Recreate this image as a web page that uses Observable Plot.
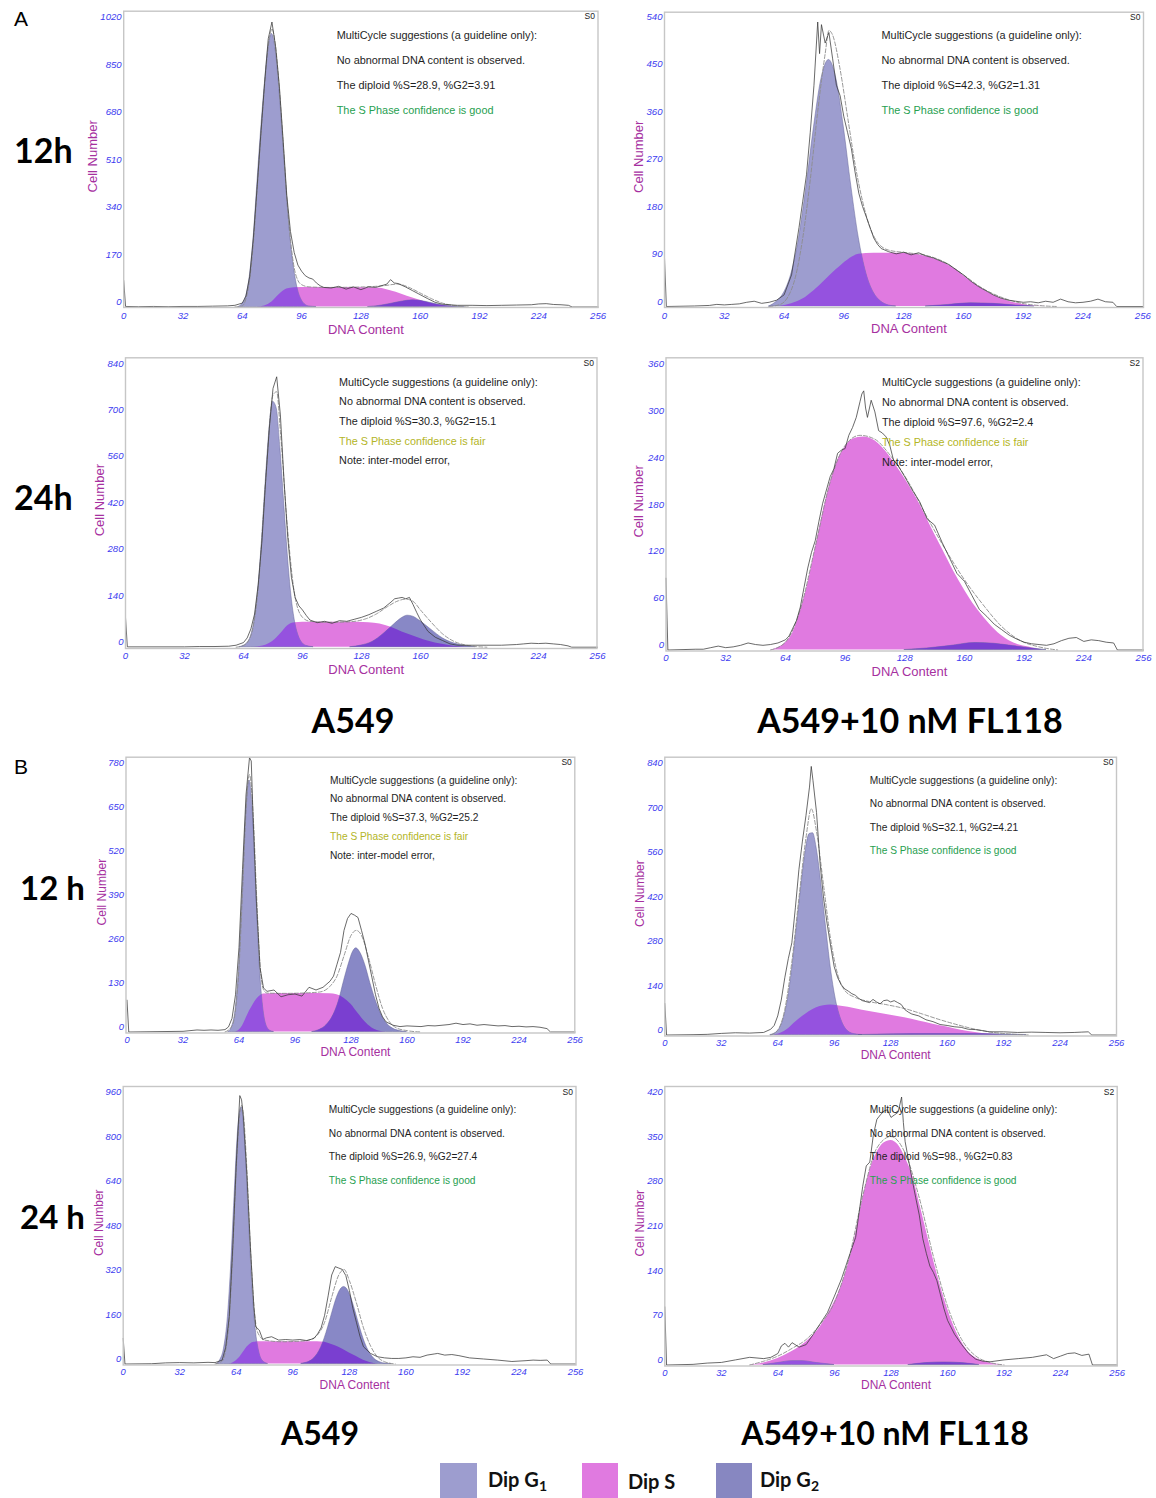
<!DOCTYPE html>
<html><head><meta charset="utf-8">
<script src="https://cdn.jsdelivr.net/npm/d3@7"></script>
<script src="https://cdn.jsdelivr.net/npm/@observablehq/plot@0.6"></script>
<style>
html,body{margin:0;padding:0;background:#fff;}
#page{position:relative;width:1156px;height:1498px;overflow:hidden;font-family:"Liberation Sans",Arial,sans-serif;}
.abs{position:absolute;white-space:nowrap;line-height:1;}
.big{font-family:Lato,"Open Sans",sans-serif;font-weight:700;color:#000;}
.lg{font-family:Lato,"Open Sans",sans-serif;font-weight:700;font-size:20px;color:#111;}
.lg sub{font-size:0.7em;vertical-align:-0.25em;}
svg{position:absolute;}
</style></head><body>
<div id="page">
  <div class="abs" style="left:14px;top:18px;font-size:21px;transform:translateY(-50%)">A</div>
  <div class="abs" style="left:14px;top:766px;font-size:21px;transform:translateY(-50%)">B</div>
  <div class="abs big" style="left:14px;top:150px;font-size:34px;transform:translateY(-50%)">12h</div>
  <div class="abs big" style="left:14px;top:497px;font-size:34px;transform:translateY(-50%)">24h</div>
  <div class="abs big" style="left:20px;top:887px;font-size:33px;transform:translateY(-50%)">12 h</div>
  <div class="abs big" style="left:20px;top:1216px;font-size:33px;transform:translateY(-50%)">24 h</div>
  <div class="abs big" style="left:353px;top:720px;font-size:34px;transform:translate(-50%,-50%)">A549</div>
  <div class="abs big" style="left:910px;top:720px;font-size:34px;transform:translate(-50%,-50%)">A549+10 nM FL118</div>
  <div class="abs big" style="left:320px;top:1433px;font-size:32px;transform:translate(-50%,-50%)">A549</div>
  <div class="abs big" style="left:885px;top:1433px;font-size:32px;transform:translate(-50%,-50%)">A549+10 nM FL118</div>
</div>
<script>
// ---------------- shared ----------------
const xTicks = [0, 32, 64, 96, 128, 160, 192, 224, 256];
const legendPhases = ["G1", "S", "G2"];

// ---------------- A · 12h · A549 ----------------
const yTicks_A12_ctl = [0, 170, 340, 510, 680, 850, 1020];
const g1_A12_ctl = [[62,0],[64,10],[66,36],[68,107],[70,238],[72,430],[74,620],[76,785],[78,925],[80,977],[82,920],[84,780],[86,600],[88,410],[90,250],[92,135],[94,62],[96,25],[98,8],[100,2],[104,0]];
const s_A12_ctl = [[72,0],[76,4],[80,18],[84,45],[88,64],[92,69],[100,70],[120,70],[130,69],[138,67],[144,58],[150,46],[156,32],[162,20],[168,10],[174,4],[180,0]];
const g2_A12_ctl = [[132,0],[138,4],[144,11],[150,19],[156,24],[160,22],[166,14],[172,6],[178,2],[184,0]];
const raw_A12_ctl = [[0,95],[1,2],[8,1],[16,2],[24,1],[32,2],[40,2],[48,3],[56,4],[60,6],[64,14],[66,40],[68,110],[70,250],[72,430],[74,620],[76,800],[78,960],[80,1020],[82,930],[84,790],[86,600],[88,400],[90,270],[92,195],[94,150],[96,128],[98,112],[100,104],[102,100],[104,86],[106,76],[108,70],[112,68],[116,74],[120,64],[124,72],[128,62],[132,72],[136,70],[140,78],[142,82],[144,98],[146,86],[148,84],[152,72],[156,58],[160,44],[164,30],[168,17],[172,10],[176,8],[180,6],[188,6],[196,5],[204,6],[212,7],[220,8],[224,11],[228,12],[232,9],[236,8],[240,6],[242,0],[256,0]];
const fit_A12_ctl = [[60,0],[64,4],[66,30],[68,100],[70,230],[72,420],[74,610],[76,790],[78,930],[80,995],[82,930],[84,780],[86,590],[88,390],[90,240],[92,140],[94,95],[96,80],[100,72],[110,70],[130,72],[140,76],[148,82],[154,70],[160,50],[166,30],[172,14],[178,5],[186,0]];
const notes_A12_ctl = ["MultiCycle suggestions (a guideline only):", "No abnormal DNA content is observed.", "The diploid %S=28.9, %G2=3.91", "The S Phase confidence is good"];

// ---------------- A · 12h · A549+FL118 ----------------
const yTicks_A12_fl = [0, 90, 180, 270, 360, 450, 540];
const g1_A12_fl = [[56,0],[60,9],[64,26],[68,63],[72,130],[76,228],[80,340],[84,432],[88,468],[92,432],[96,340],[100,228],[104,130],[108,63],[112,26],[116,9],[120,2],[124,0]];
const s_A12_fl = [[62,0],[68,5],[74,14],[80,30],[86,50],[92,70],[98,88],[104,99],[112,101],[124,101],[134,99],[142,93],[150,82],[156,70],[162,53],[168,38],[174,25],[180,15],[186,8],[192,4],[198,1],[204,0]];
const g2_A12_fl = [[140,0],[152,3],[164,6],[176,5],[188,2],[198,0]];
const raw_A12_fl = [[0,92],[1,0],[16,1],[24,2],[28,4],[32,3],[36,4],[40,5],[44,8],[48,10],[52,6],[56,8],[60,12],[64,22],[68,60],[72,150],[74,200],[76,250],[78,330],[80,420],[82,540],[83,480],[84,535],[86,500],[88,520],[90,470],[92,420],[94,400],[96,360],[98,330],[100,300],[102,255],[104,215],[106,190],[108,170],[110,150],[112,130],[114,118],[116,110],[120,104],[124,100],[128,103],[132,98],[136,102],[140,96],[144,92],[148,86],[152,80],[156,70],[160,60],[164,48],[168,38],[172,30],[176,22],[180,16],[184,12],[188,10],[192,8],[196,9],[200,7],[204,10],[208,8],[212,14],[216,9],[220,7],[224,8],[228,10],[232,14],[236,9],[240,8],[242,0],[256,0]];
const fit_A12_fl = [[56,0],[62,4],[66,18],[70,55],[74,130],[78,240],[82,370],[86,480],[88,524],[90,515],[94,450],[98,360],[102,270],[106,200],[110,150],[114,122],[120,107],[130,102],[140,97],[150,84],[160,60],[170,35],[180,18],[190,7],[200,2],[210,0]];
const notes_A12_fl = ["MultiCycle suggestions (a guideline only):", "No abnormal DNA content is observed.", "The diploid %S=42.3, %G2=1.31", "The S Phase confidence is good"];

// ---------------- A · 24h · A549 ----------------
const yTicks_A24_ctl = [0, 140, 280, 420, 560, 700, 840];
const g1_A24_ctl = [[62,0],[64,4],[66,12],[68,32],[70,82],[72,175],[74,320],[76,495],[78,650],[80,740],[82,720],[84,600],[86,440],[88,280],[90,155],[92,75],[94,32],[96,12],[98,4],[102,0]];
const s_A24_ctl = [[70,0],[76,6],[80,18],[84,40],[88,65],[92,74],[100,75],[120,75],[132,74],[138,70],[144,60],[150,46],[156,34],[162,22],[168,13],[174,7],[180,2],[186,0]];
const g2_A24_ctl = [[122,0],[128,5],[134,16],[140,40],[146,70],[150,88],[153,95],[156,92],[160,78],[166,52],[172,27],[178,12],[184,4],[190,0]];
const raw_A24_ctl = [[0,90],[1,1],[16,1],[32,1],[40,2],[48,2],[56,3],[60,6],[64,14],[66,28],[68,55],[70,100],[72,190],[74,320],[76,500],[78,660],[80,780],[82,815],[84,700],[86,500],[88,330],[90,210],[92,150],[94,125],[96,112],[98,96],[100,82],[104,74],[108,78],[112,72],[116,80],[120,78],[124,84],[128,90],[132,98],[136,108],[140,118],[144,136],[146,146],[148,148],[150,150],[152,146],[154,150],[156,128],[158,104],[160,82],[164,48],[168,30],[172,20],[176,10],[180,6],[188,6],[196,6],[204,6],[212,8],[216,10],[220,12],[224,11],[228,12],[232,10],[236,8],[240,4],[242,0],[256,0]];
const fit_A24_ctl = [[60,0],[64,5],[68,35],[72,180],[76,500],[80,760],[82,770],[84,650],[88,350],[92,150],[96,90],[100,78],[110,75],[120,76],[130,85],[136,100],[142,122],[148,140],[152,145],[156,138],[160,112],[166,74],[172,40],[178,18],[184,7],[190,2],[196,0]];
const notes_A24_ctl = ["MultiCycle suggestions (a guideline only):", "No abnormal DNA content is observed.", "The diploid %S=30.3, %G2=15.1", "The S Phase confidence is fair", "Note: inter-model error,"];

// ---------------- A · 24h · A549+FL118 ----------------
const yTicks_A24_fl = [0, 60, 120, 180, 240, 300, 360];
const g1_A24_fl = [];
const s_A24_fl = [[56,0],[60,3],[64,9],[68,22],[72,50],[76,85],[80,130],[84,175],[88,214],[92,243],[96,260],[100,270],[106,273],[112,268],[118,254],[124,234],[130,212],[136,187],[142,158],[148,130],[154,102],[160,77],[166,55],[172,37],[178,22],[184,12],[190,6],[196,3],[202,0]];
const g2_A24_fl = [[128,0],[140,2],[152,5],[166,9],[176,8],[186,5],[196,2],[204,0]];
const raw_A24_fl = [[0,92],[1,0],[16,1],[20,1],[24,3],[28,5],[32,3],[36,4],[40,6],[44,9],[48,7],[52,6],[56,7],[60,9],[64,13],[66,18],[68,28],[70,38],[72,55],[74,80],[76,105],[78,125],[80,140],[82,165],[84,188],[86,205],[88,222],[90,232],[92,252],[94,256],[96,258],[98,275],[100,285],[102,298],[104,318],[105,328],[106,332],[107,310],[108,298],[110,320],[112,305],[114,281],[116,278],[118,273],[120,262],[122,243],[124,238],[128,222],[132,205],[136,190],[140,168],[144,160],[148,138],[152,118],[156,98],[160,88],[164,70],[168,52],[172,43],[176,33],[180,26],[184,19],[188,14],[192,10],[196,8],[200,7],[204,6],[208,8],[212,12],[216,15],[220,16],[224,11],[228,13],[232,12],[236,10],[240,9],[242,0],[256,0]];
const fit_A24_fl = [[56,0],[64,10],[72,52],[80,132],[88,215],[96,262],[104,275],[112,270],[120,250],[130,215],[140,170],[150,128],[160,90],[170,58],[180,30],[190,12],[200,4],[210,0]];
const notes_A24_fl = ["MultiCycle suggestions (a guideline only):", "No abnormal DNA content is observed.", "The diploid %S=97.6, %G2=2.4", "The S Phase confidence is fair", "Note: inter-model error,"];

// ---------------- B · 12 h · A549 ----------------
const yTicks_B12_ctl = [0, 130, 260, 390, 520, 650, 780];
const g1_B12_ctl = [[58,0],[60,15],[62,63],[64,185],[66,400],[68,640],[70,743],[72,640],[74,400],[76,185],[78,63],[80,15],[82,3],[84,0]];
const s_B12_ctl = [[62,0],[64,5],[66,18],[68,40],[70,62],[72,80],[74,96],[76,106],[78,112],[84,114],[100,114],[116,113],[120,110],[124,100],[128,82],[132,55],[136,30],[140,12],[144,3],[148,0]];
const g2_B12_ctl = [[106,0],[110,6],[114,20],[118,50],[121,90],[124,150],[127,205],[129,235],[131,247],[133,237],[136,200],[139,145],[142,95],[145,55],[148,28],[152,10],[156,3],[160,0]];
const raw_B12_ctl = [[0,94],[1,0],[16,1],[32,2],[36,4],[40,6],[44,5],[48,6],[52,5],[56,7],[58,15],[60,40],[62,110],[64,250],[66,480],[68,700],[70,810],[71,800],[72,640],[74,380],[76,190],[78,130],[80,120],[84,124],[88,104],[92,110],[96,112],[100,106],[104,132],[108,124],[112,132],[116,150],[118,165],[120,200],[122,235],[124,300],[126,335],[128,350],[130,345],[132,338],[134,300],[136,260],[138,210],[140,160],[142,110],[144,70],[146,45],[148,30],[152,20],[156,16],[160,18],[164,17],[168,16],[172,19],[176,18],[180,20],[184,22],[188,26],[192,22],[196,24],[200,20],[204,22],[208,20],[212,18],[216,19],[220,16],[224,17],[228,15],[232,16],[236,14],[240,10],[242,0],[256,0]];
const fit_B12_ctl = [[56,0],[60,18],[62,65],[64,190],[66,410],[68,650],[70,760],[72,650],[74,410],[76,200],[78,125],[80,115],[90,114],[100,115],[110,118],[116,135],[120,165],[124,225],[128,285],[131,300],[134,285],[138,220],[142,140],[146,70],[150,30],[154,12],[160,4],[168,0]];
const notes_B12_ctl = ["MultiCycle suggestions (a guideline only):", "No abnormal DNA content is observed.", "The diploid %S=37.3, %G2=25.2", "The S Phase confidence is fair", "Note: inter-model error,"];

// ---------------- B · 12 h · A549+FL118 ----------------
const yTicks_B12_fl = [0, 140, 280, 420, 560, 700, 840];
const g1_B12_fl = [[60,0],[64,12],[66,30],[68,65],[70,120],[72,200],[74,300],[76,400],[78,500],[80,585],[82,632],[84,635],[86,590],[88,510],[90,410],[92,310],[94,215],[96,140],[98,85],[100,48],[102,24],[104,11],[108,2],[112,0]];
const s_B12_fl = [[62,0],[66,6],[70,20],[74,40],[78,58],[82,74],[86,86],[90,92],[94,94],[98,92],[104,87],[112,78],[120,70],[128,62],[136,54],[144,44],[152,34],[160,25],[168,15],[176,8],[184,3],[192,0]];
const g2_B12_fl = [[110,0],[130,2],[150,3],[170,3],[190,2],[205,0]];
const raw_B12_fl = [[0,99],[1,0],[16,1],[24,2],[32,5],[40,7],[48,6],[56,8],[60,18],[62,30],[64,60],[66,110],[68,180],[70,240],[72,290],[74,400],[76,520],[78,610],[80,690],[82,780],[83,845],[84,800],[86,700],[88,540],[90,430],[92,350],[94,280],[96,215],[98,180],[100,158],[102,145],[104,138],[106,130],[108,125],[110,115],[112,108],[116,102],[118,112],[120,104],[122,98],[124,108],[126,110],[128,104],[130,108],[132,102],[134,96],[136,80],[138,72],[140,66],[144,60],[148,48],[152,42],[156,33],[160,30],[164,26],[168,24],[172,18],[176,17],[180,14],[184,10],[192,10],[200,8],[208,9],[216,8],[224,7],[232,8],[236,9],[240,10],[242,0],[256,0]];
const fit_B12_fl = [[60,0],[64,15],[68,80],[72,230],[76,430],[80,620],[83,712],[86,640],[90,470],[94,300],[98,190],[102,140],[108,118],[116,105],[126,95],[136,83],[146,66],[156,48],[166,32],[176,18],[186,8],[196,3],[206,0]];
const notes_B12_fl = ["MultiCycle suggestions (a guideline only):", "No abnormal DNA content is observed.", "The diploid %S=32.1, %G2=4.21", "The S Phase confidence is good"];

// ---------------- B · 24 h · A549 ----------------
const yTicks_B24_ctl = [0, 160, 320, 480, 640, 800, 960];
const g1_B24_ctl = [[53,0],[55,15],[57,53],[59,150],[61,340],[63,600],[65,838],[67,923],[69,800],[71,546],[73,293],[75,125],[77,42],[79,11],[82,0]];
const s_B24_ctl = [[60,0],[62,4],[64,12],[66,24],[68,42],[70,60],[72,72],[74,78],[78,80],[100,80],[110,80],[114,78],[118,70],[122,60],[126,47],[130,33],[134,20],[138,9],[142,2],[146,0]];
const g2_B24_ctl = [[101,1],[105,7],[107,14],[109,27],[111,46],[113,74],[115,111],[117,154],[119,199],[121,239],[123,267],[125,277],[127,267],[129,239],[131,199],[133,154],[135,111],[137,74],[139,46],[141,27],[143,14],[145,7],[149,1],[152,0]];
const raw_B24_ctl = [[0,92],[1,0],[16,1],[24,4],[32,5],[40,4],[48,6],[52,5],[56,14],[58,60],[60,170],[62,420],[64,720],[66,965],[67,950],[68,890],[70,680],[72,420],[74,200],[75,134],[77,122],[79,88],[81,94],[84,98],[88,86],[92,88],[96,86],[100,88],[104,84],[108,92],[110,108],[112,130],[114,175],[116,245],[118,320],[120,350],[122,345],[124,340],[126,318],[128,265],[130,200],[132,150],[134,100],[136,62],[140,38],[144,26],[148,22],[152,20],[156,20],[160,22],[164,26],[168,24],[172,32],[176,36],[178,38],[182,32],[186,34],[190,30],[196,22],[204,18],[212,14],[220,9],[228,12],[232,14],[236,13],[240,14],[242,0],[256,0]];
const fit_B24_ctl = [[52,0],[56,10],[58,50],[60,160],[62,400],[64,700],[66,900],[67,930],[68,900],[70,700],[72,420],[74,210],[76,115],[80,86],[90,80],[100,82],[106,88],[110,105],[114,150],[118,240],[122,320],[125,340],[128,300],[132,220],[136,130],[140,65],[144,25],[148,8],[154,0]];
const notes_B24_ctl = ["MultiCycle suggestions (a guideline only):", "No abnormal DNA content is observed.", "The diploid %S=26.9, %G2=27.4", "The S Phase confidence is good"];

// ---------------- B · 24 h · A549+FL118 ----------------
const yTicks_B24_fl = [0, 70, 140, 210, 280, 350, 420];
const g1_B24_fl = [[56,0],[64,3],[72,6],[78,6],[86,3],[96,0]];
const s_B24_fl = [[48,0],[56,3],[64,10],[72,21],[80,36],[88,60],[94,88],[100,125],[104,160],[108,205],[112,260],[116,305],[120,333],[124,348],[128,352],[132,345],[136,325],[140,298],[144,255],[148,210],[152,165],[156,124],[160,88],[164,58],[168,36],[172,20],[176,11],[180,6],[186,2],[192,0]];
const g2_B24_fl = [[138,0],[148,3],[158,4],[168,3],[178,0]];
const raw_B24_fl = [[0,91],[1,0],[16,1],[24,3],[32,4],[40,8],[48,12],[56,10],[60,12],[64,18],[66,30],[68,34],[70,28],[72,35],[76,28],[80,32],[84,48],[88,65],[92,82],[96,108],[100,135],[104,168],[108,200],[110,240],[112,280],[114,312],[116,318],[118,360],[120,385],[122,392],[124,398],[126,400],[128,388],[130,392],[132,396],[134,420],[135,380],[136,350],[138,320],[140,290],[142,262],[144,235],[146,198],[148,175],[150,155],[152,145],[154,132],[156,110],[158,88],[160,70],[164,48],[168,32],[172,18],[176,9],[180,6],[184,5],[192,8],[200,10],[208,12],[216,16],[220,10],[224,14],[228,18],[232,19],[236,15],[240,17],[242,0],[256,0]];
const fit_B24_fl = [[48,0],[56,6],[64,14],[72,26],[80,40],[88,64],[96,98],[104,165],[112,265],[120,340],[128,358],[136,332],[144,262],[152,170],[160,92],[168,40],[176,14],[184,4],[192,0]];
const notes_B24_fl = ["MultiCycle suggestions (a guideline only):", "No abnormal DNA content is observed.", "The diploid %S=98., %G2=0.83", "The S Phase confidence is good"];

// ---------------- styles ----------------
const COLORS = {G1:"#9d9dcf", S:"#e07ae0", G2:"#8888c6", G1S:"#9552df", G2S:"#7a3fd0", edge:"#5c5c92",
  raw:"#383838", fit:"#8c8c8c", frame:"#c6c6c6", tick:"#3c3cf0", axisLabel:"#a6309f",
  note:"#1e1e1e", good:"#27a050", fair:"#b3b526"};

// layout (page pixels) for each panel
const panels = [
 {data:[g1_A12_ctl,s_A12_ctl,g2_A12_ctl,raw_A12_ctl,fit_A12_ctl], yTicks:yTicks_A12_ctl, notes:notes_A12_ctl, flag:"S0",
  L:123.2,R:597.5,T:10.7,B:307, x0:123.2,x1:597.6, y0:306.5,y1:21.5, tickPad:4.5, tickFont:9.6,
  noteDx:213,noteDy:24.3,noteGap:25,noteFont:10.9, labFont:13, cellDx:-31, cellDy:-3, dnaDy:22.5},
 {data:[g1_A12_fl,s_A12_fl,g2_A12_fl,raw_A12_fl,fit_A12_fl], yTicks:yTicks_A12_fl, notes:notes_A12_fl, flag:"S0",
  L:664,R:1143,T:11.7,B:307, x0:664,x1:1142.3, y0:306,y1:21.5, tickPad:4.5, tickFont:9.6,
  noteDx:217,noteDy:23.3,noteGap:25,noteFont:10.9, labFont:13, cellDx:-26, cellDy:-3, dnaDy:21.5},
 {data:[g1_A24_ctl,s_A24_ctl,g2_A24_ctl,raw_A24_ctl,fit_A24_ctl], yTicks:yTicks_A24_ctl, notes:notes_A24_ctl, flag:"S0",
  L:125,R:596.5,T:357.3,B:648, x0:125,x1:597, y0:646.7,y1:368, tickPad:3.6, tickFont:9.6,
  noteDx:213.6,noteDy:24.4,noteGap:19.7,noteFont:10.8, labFont:13, cellDx:-26, cellDy:-3, dnaDy:21},
 {data:[g1_A24_fl,s_A24_fl,g2_A24_fl,raw_A24_fl,fit_A24_fl], yTicks:yTicks_A24_fl, notes:notes_A24_fl, flag:"S2",
  L:665.5,R:1142.5,T:357.3,B:650.5, x0:665.5,x1:1143, y0:649.5,y1:368.5, tickPad:3.6, tickFont:9.6,
  noteDx:216,noteDy:24.4,noteGap:20,noteFont:10.8, labFont:13, cellDx:-26.7, cellDy:-3, dnaDy:21.2},
 {data:[g1_B12_ctl,s_B12_ctl,g2_B12_ctl,raw_B12_ctl,fit_B12_ctl], yTicks:yTicks_B12_ctl, notes:notes_B12_ctl, flag:"S0",
  L:125.5,R:574.3,T:756.7,B:1032.5, x0:126.5,x1:574.5, y0:1031.5,y1:767.3, tickPad:3.4, tickFont:9.4,
  noteDx:204,noteDy:23.3,noteGap:18.7,noteFont:10.2, labFont:12, cellDx:-24, cellDy:-3, dnaDy:19.5},
 {data:[g1_B12_fl,s_B12_fl,g2_B12_fl,raw_B12_fl,fit_B12_fl], yTicks:yTicks_B12_fl, notes:notes_B12_fl, flag:"S0",
  L:664.3,R:1116,T:756.7,B:1035.5, x0:664.3,x1:1116, y0:1034.5,y1:767.5, tickPad:3.2, tickFont:9.4,
  noteDx:205,noteDy:23.3,noteGap:23.5,noteFont:10.2, labFont:12, cellDx:-25, cellDy:-3, dnaDy:19.5},
 {data:[g1_B24_ctl,s_B24_ctl,g2_B24_ctl,raw_B24_ctl,fit_B24_ctl], yTicks:yTicks_B24_ctl, notes:notes_B24_ctl, flag:"S0",
  L:122.7,R:575.5,T:1086,B:1364.5, x0:122.7,x1:575, y0:1363.5,y1:1096.5, tickPad:3.8, tickFont:9.4,
  noteDx:205.6,noteDy:23.3,noteGap:23.5,noteFont:10.2, labFont:12, cellDx:-24.4, cellDy:-3, dnaDy:20.5},
 {data:[g1_B24_fl,s_B24_fl,g2_B24_fl,raw_B24_fl,fit_B24_fl], yTicks:yTicks_B24_fl, notes:notes_B24_fl, flag:"S2",
  L:664.3,R:1116.7,T:1086,B:1365.5, x0:664.3,x1:1116.7, y0:1364.5,y1:1096.5, tickPad:3.5, tickFont:9.4,
  noteDx:205,noteDy:23.3,noteGap:23.5,noteFont:10.2, labFont:12, cellDx:-25, cellDy:-3, dnaDy:19.5}
];

const NS = "http://www.w3.org/2000/svg";
const page = document.getElementById("page");

function drawPanel(p, idx) {
  const [g1, s, g2, raw, fit] = p.data;
  const left = Math.floor(p.L - 58), top = Math.floor(p.T - 5);
  const width = Math.ceil(p.R + 10 - left), height = Math.ceil(p.B + 34 - top);
  const X = d => d[0], Y = d => d[1];
  const yMax = p.yTicks[p.yTicks.length - 1];
  const area = (data, fill, tag, edge) => Plot.areaY(data, {x: X, y: Y, fill, curve: "monotone-x", ariaDescription: tag,
    stroke: edge ? COLORS.edge : "none", strokeWidth: 0.55, strokeOpacity: 0.85});
  const noteColor = t => /good/.test(t) ? COLORS.good : /fair/.test(t) ? COLORS.fair : COLORS.note;
  const marks = [
    area(s, COLORS.S, "phase-S", false),
    area(g1, COLORS.G1, "phase-G1", true),
    area(g2, COLORS.G2, "phase-G2", true),
    area(g1, COLORS.G1S, "phase-G1-in-S", false),
    area(g2, COLORS.G2S, "phase-G2-in-S", false),
    Plot.line(fit, {x: X, y: Y, stroke: COLORS.fit, strokeWidth: 0.9, strokeDasharray: "4,2", curve: "monotone-x"}),
    Plot.line(raw, {x: X, y: Y, stroke: COLORS.raw, strokeWidth: 0.75}),
    Plot.frame({stroke: COLORS.frame, strokeWidth: 1.4}),
    Plot.axisX({ticks: xTicks, tickSize: 0, tickPadding: p.tickPad, tickFormat: d => String(d), label: null,
      fill: COLORS.tick, fontStyle: "italic", fontSize: p.tickFont}),
    Plot.axisY({ticks: p.yTicks, tickSize: 0, tickPadding: 2, dy: -5, tickFormat: d => String(d), label: null,
      fill: COLORS.tick, fontStyle: "italic", fontSize: p.tickFont}),
    Plot.text(["Cell Number"], {text: d => d, frameAnchor: "left", rotate: -90, dx: p.cellDx, dy: p.cellDy,
      textAnchor: "middle", lineAnchor: "middle", fill: COLORS.axisLabel, fontSize: p.labFont}),
    Plot.text(["DNA Content"], {text: d => d, frameAnchor: "bottom", dx: 5, dy: p.dnaDy,
      textAnchor: "middle", lineAnchor: "middle", fill: COLORS.axisLabel, fontSize: p.labFont}),
    Plot.text([p.flag], {text: d => d, frameAnchor: "top-right", dx: -3, dy: 5.5,
      textAnchor: "end", lineAnchor: "middle", fill: "#222", fontSize: 8.5}),
    ...p.notes.map((t, i) => Plot.text([t], {text: d => d, frameAnchor: "top-left", dx: p.noteDx, dy: p.noteDy + i * p.noteGap,
      textAnchor: "start", lineAnchor: "middle", fill: noteColor(t), fontSize: p.noteFont}))
  ];
  const svg = Plot.plot({
    width, height,
    marginLeft: p.L - left, marginRight: left + width - p.R,
    marginTop: p.T - top, marginBottom: top + height - p.B,
    x: {domain: [0, 256], range: [p.x0 - left, p.x1 - left]},
    y: {domain: [0, yMax], range: [p.y0 - top, p.y1 - top]},
    style: {fontFamily: "'Liberation Sans', Arial, sans-serif", background: "transparent", overflow: "visible"},
    marks
  });
  // the parts of G1 / G2 lying under the S curve are drawn in violet: clip the violet copies to the S area
  const find = tag => svg.querySelector(`g[aria-description="${tag}"]`);
  const sG = find("phase-S");
  const sPath = sG && sG.querySelector("path");
  if (sPath) {
    const defs = document.createElementNS(NS, "defs");
    const cp = document.createElementNS(NS, "clipPath");
    cp.setAttribute("id", "sclip" + idx);
    const pp = document.createElementNS(NS, "path");
    pp.setAttribute("d", sPath.getAttribute("d"));
    cp.appendChild(pp); defs.appendChild(cp);
    svg.insertBefore(defs, svg.firstChild);
    for (const tag of ["phase-G1-in-S", "phase-G2-in-S"]) {
      const g = find(tag);
      if (g) g.querySelectorAll("path").forEach(e => e.setAttribute("clip-path", `url(#sclip${idx})`));
    }
  }
  svg.style.left = left + "px";
  svg.style.top = top + "px";
  page.appendChild(svg);
}
panels.forEach(drawPanel);

// legend
const legendLayout = [{sw: 440, w: 37, tx: 488}, {sw: 582, w: 36, tx: 628}, {sw: 716, w: 36, tx: 760}];
const legendColors = {G1: COLORS.G1, S: COLORS.S, G2: "#8787c1"};
legendPhases.forEach((ph, i) => {
  const L = legendLayout[i];
  const sw = document.createElement("div");
  sw.className = "abs";
  sw.style.cssText = `left:${L.sw}px;top:1463px;width:${L.w}px;height:35px;background:${legendColors[ph]};`;
  page.appendChild(sw);
  const tx = document.createElement("div");
  tx.className = "abs lg";
  tx.style.cssText = `left:${L.tx}px;top:1481px;transform:translateY(-50%);`;
  tx.innerHTML = "Dip " + ph.replace(/^G(\d)$/, "G<sub>$1</sub>");
  page.appendChild(tx);
});
</script>
</body></html>
